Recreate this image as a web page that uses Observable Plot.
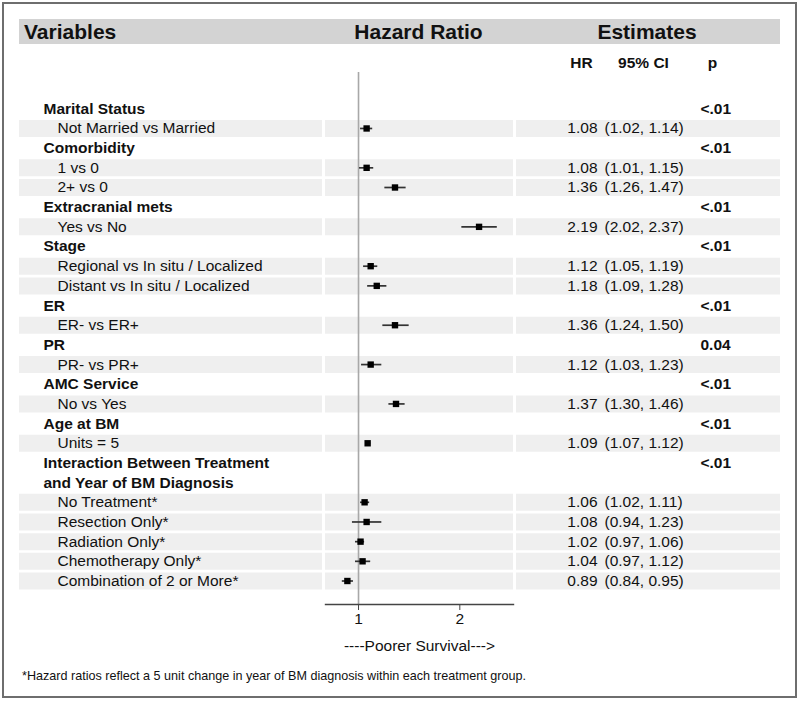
<!DOCTYPE html>
<html>
<head>
<meta charset="utf-8">
<script src="https://cdn.jsdelivr.net/npm/d3@7"></script>
<script src="https://cdn.jsdelivr.net/npm/@observablehq/plot@0.6"></script>
<style>
  body { margin: 0; background: #fff; font-family: "Liberation Sans", Arial, sans-serif; }
  #wrap { position: relative; width: 800px; height: 701px; overflow: hidden; background: #fff; }
  #border { position: absolute; left: 2px; top: 2px; width: 795px; height: 696px; box-sizing: border-box; border: 2px solid #6e6e6e; }
  #band { position: absolute; left: 19px; top: 19px; width: 761px; height: 25px; background: #d3d3d3; }
  .ptitle { position: absolute; top: 19px; height: 25px; line-height: 26px; font-size: 21px; font-weight: bold; color: #111; white-space: nowrap; }
  .plot { position: absolute; top: 0; }
  #foot { position: absolute; left: 22px; top: 668px; font-size: 12.6px; line-height: 16px; color: #111; white-space: nowrap; }
</style>
</head>
<body>
<div id="wrap">
  <div id="band"></div>
  <div id="border"></div>
</div>
<script>
// ---------------- data ----------------
const rowLabels = [
  "Marital Status", "Not Married vs Married",
  "Comorbidity", "1 vs 0", "2+ vs 0",
  "Extracranial mets", "Yes vs No",
  "Stage", "Regional vs In situ / Localized", "Distant vs In situ / Localized",
  "ER", "ER- vs ER+",
  "PR", "PR- vs PR+",
  "AMC Service", "No vs Yes",
  "Age at BM", "Units = 5",
  "Interaction Between Treatment", "and Year of BM Diagnosis",
  "No Treatment*", "Resection Only*", "Radiation Only*", "Chemotherapy Only*", "Combination of 2 or More*"
];
const isGroup = [
  true, false,
  true, false, false,
  true, false,
  true, false, false,
  true, false,
  true, false,
  true, false,
  true, false,
  true, true,
  false, false, false, false, false
];
const hr = [
  null, 1.08,
  null, 1.08, 1.36,
  null, 2.19,
  null, 1.12, 1.18,
  null, 1.36,
  null, 1.12,
  null, 1.37,
  null, 1.09,
  null, null,
  1.06, 1.08, 1.02, 1.04, 0.89
];
const ciLow = [
  null, 1.02,
  null, 1.01, 1.26,
  null, 2.02,
  null, 1.05, 1.09,
  null, 1.24,
  null, 1.03,
  null, 1.30,
  null, 1.07,
  null, null,
  1.02, 0.94, 0.97, 0.97, 0.84
];
const ciHigh = [
  null, 1.14,
  null, 1.15, 1.47,
  null, 2.37,
  null, 1.19, 1.28,
  null, 1.50,
  null, 1.23,
  null, 1.46,
  null, 1.12,
  null, null,
  1.11, 1.23, 1.06, 1.12, 0.95
];
const pValues = [
  "<.01", "",
  "<.01", "", "",
  "<.01", "",
  "<.01", "", "",
  "<.01", "",
  "0.04", "",
  "<.01", "",
  "<.01", "",
  "<.01", "",
  "", "", "", "", ""
];
const panelTitles = ["Variables", "Hazard Ratio", "Estimates"];
const estimateHeaders = ["HR", "95% CI", "p"];
const xTicks = [1, 2];
const xDomain = [0.674, 2.53];
const xLabel = "----Poorer Survival--->";
const footnote = "*Hazard ratios reflect a 5 unit change in year of BM diagnosis within each treatment group.";

// ---------------- build ----------------
const rows = rowLabels.map((label, i) => ({
  row: i, label, group: isGroup[i], hr: hr[i], lo: ciLow[i], hi: ciHigh[i], p: pValues[i]
}));
const items = rows.filter(d => d.hr != null);
const groups = rows.filter(d => d.group);
const pRows = rows.filter(d => d.p);

const FONT = '"Liberation Sans", Arial, sans-serif';
const FS = 15.5;
const yScale = { domain: [0, rowLabels.length - 1], range: [108.3, 580.5], axis: null };
const stripe = { y: "row", stroke: "#efefef", strokeWidth: 17 };
const baseStyle = { fontFamily: FONT, fontSize: FS + "px", background: "transparent", overflow: "visible", color: "#111" };

const wrap = document.getElementById("wrap");

function place(svg, left) {
  svg.classList.add("plot");
  svg.style.left = left + "px";
  svg.style.position = "absolute";
  svg.style.top = "0px";
  wrap.appendChild(svg);
}

// Left: variable labels
const left = Plot.plot({
  width: 303, height: 701, margin: 0,
  y: yScale,
  style: baseStyle,
  marks: [
    Plot.ruleY(items, stripe),
    Plot.text(groups, { y: "row", text: "label", frameAnchor: "left", dx: 24, textAnchor: "start", fontWeight: "bold", fontSize: FS, fill: "#111" }),
    Plot.text(items, { y: "row", text: "label", frameAnchor: "left", dx: 38, textAnchor: "start", fontSize: FS, fill: "#111" })
  ]
});
place(left, 19);

// Middle: forest plot
const mid = Plot.plot({
  width: 188, height: 701,
  marginLeft: 0, marginRight: 0, marginTop: 72, marginBottom: 97,
  x: { domain: xDomain },
  y: yScale,
  style: baseStyle,
  marks: [
    Plot.ruleY(items, stripe),
    Plot.ruleX([1], { stroke: "#a8a8a8", strokeWidth: 1.6 }),
    Plot.frame({ anchor: "bottom", stroke: "#444", strokeWidth: 1.4 }),
    Plot.axisX({ ticks: xTicks, tickSize: 6, label: null, stroke: "#444", tickFormat: () => "" }),
    Plot.text(xTicks, { x: d => d, frameAnchor: "bottom", dy: 19, text: d => String(d), fontSize: FS, fill: "#111" }),
    Plot.ruleY(items, { y: "row", x1: "lo", x2: "hi", stroke: "#333", strokeWidth: 1.7 }),
    Plot.dot(items, { x: "hr", y: "row", symbol: "square", r: 3.6, fill: "#000", stroke: "none" }),
    Plot.text([xLabel], { frameAnchor: "bottom", dy: 46, text: d => d, fontSize: FS, fill: "#111" })
  ]
});
place(mid, 325);

// Right: estimates
const headerPos = [65, 127, 196]; // centres of sub-headers relative to panel
const right = Plot.plot({
  width: 264, height: 701, margin: 0,
  y: yScale,
  style: baseStyle,
  marks: [
    Plot.ruleY(items, stripe),
    ...estimateHeaders.map((h, i) => Plot.text([h], { frameAnchor: "top-left", dx: headerPos[i], dy: 56, text: d => d, textAnchor: "middle", fontWeight: "bold", fontSize: FS, fill: "#111" })),
    Plot.text(items, { y: "row", text: d => d.hr.toFixed(2), frameAnchor: "left", dx: 81, textAnchor: "end", fontSize: FS, fill: "#111" }),
    Plot.text(items, { y: "row", text: d => `(${d.lo.toFixed(2)}, ${d.hi.toFixed(2)})`, frameAnchor: "left", dx: 88, textAnchor: "start", fontSize: FS, fill: "#111" }),
    Plot.text(pRows, { y: "row", text: "p", frameAnchor: "left", dx: 184, textAnchor: "start", fontWeight: "bold", fontSize: FS, fill: "#111" })
  ]
});
place(right, 516);

// Panel titles & footnote
const titleCentres = [null, 418.5, 647];
panelTitles.forEach((t, i) => {
  const s = document.createElement("div");
  s.className = "ptitle";
  s.textContent = t;
  if (i === 0) { s.style.left = "24px"; }
  else { s.style.left = titleCentres[i] + "px"; s.style.transform = "translateX(-50%)"; }
  wrap.appendChild(s);
});
const f = document.createElement("div");
f.id = "foot";
f.textContent = footnote;
wrap.appendChild(f);
</script>
</body>
</html>
